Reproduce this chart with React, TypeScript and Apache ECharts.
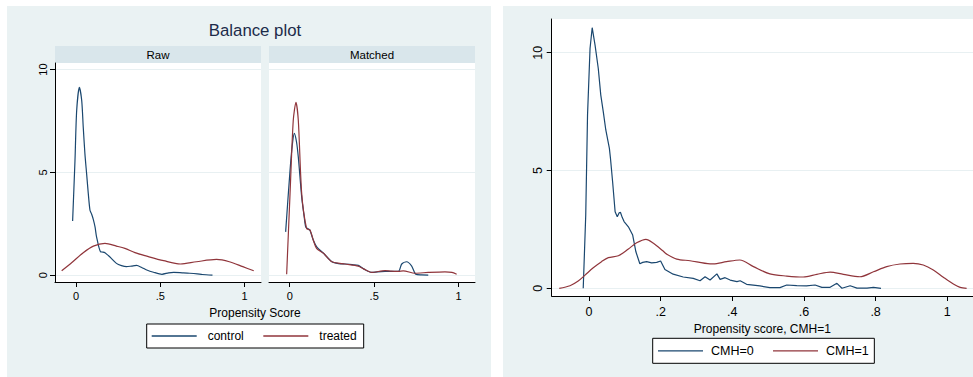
import React, { useEffect, useRef } from "react";
import * as echarts from "echarts";

// ---- data ----
const rawControl: [number, number][] = [
  [-0.02, 2.64], [-0.006, 5.58], [0.004, 8.0], [0.02, 9.13], [0.034, 8.49], [0.043, 7.2],
  [0.053, 5.9], [0.063, 4.94], [0.073, 3.97], [0.083, 3.16], [0.093, 2.97], [0.103, 2.71],
  [0.113, 2.35], [0.122, 1.87], [0.146, 1.14], [0.16, 1.13], [0.172, 1.1], [0.2, 0.9],
  [0.24, 0.58], [0.27, 0.47], [0.3, 0.42], [0.33, 0.45], [0.36, 0.48], [0.39, 0.38],
  [0.42, 0.26], [0.46, 0.15], [0.51, 0.05], [0.55, 0.12], [0.58, 0.14], [0.63, 0.12],
  [0.675, 0.1], [0.72, 0.07], [0.75, 0.04], [0.81, 0.01],
];
const rawTreated: [number, number][] = [
  [-0.085, 0.22], [-0.026, 0.61], [0.043, 1.1], [0.103, 1.42], [0.172, 1.55], [0.24, 1.42],
  [0.29, 1.31], [0.35, 1.1], [0.42, 0.93], [0.52, 0.71], [0.62, 0.55], [0.715, 0.66],
  [0.834, 0.77], [0.91, 0.66], [0.99, 0.42], [1.055, 0.22],
];
const matchedControl: [number, number][] = [
  [-0.024, 2.11], [0.002, 5.1], [0.015, 6.3], [0.027, 6.9], [0.04, 6.5], [0.051, 5.74],
  [0.071, 3.8], [0.085, 2.9], [0.095, 2.35], [0.11, 2.25], [0.12, 2.19], [0.14, 1.7],
  [0.16, 1.38], [0.2, 1.07], [0.25, 0.66], [0.29, 0.57], [0.327, 0.55], [0.37, 0.52],
  [0.406, 0.48], [0.44, 0.3], [0.485, 0.14], [0.52, 0.17], [0.564, 0.19], [0.643, 0.19],
  [0.663, 0.55], [0.692, 0.66], [0.722, 0.45], [0.746, 0.05], [0.78, 0.02], [0.82, 0.01],
];
const matchedTreated: [number, number][] = [
  [-0.018, 0.05], [0.002, 3.97], [0.021, 7.52], [0.037, 8.41], [0.051, 7.52], [0.071, 3.97],
  [0.1, 2.27], [0.12, 2.2], [0.14, 1.7], [0.16, 1.3], [0.2, 1.07], [0.25, 0.66],
  [0.327, 0.55], [0.406, 0.45], [0.44, 0.3], [0.485, 0.14], [0.564, 0.23], [0.6, 0.2],
  [0.643, 0.19], [0.672, 0.22], [0.741, 0.1], [0.82, 0.14], [0.919, 0.17], [0.96, 0.14],
  [0.988, 0.05],
];
const cmh0: [number, number][] = [
  [-0.016, 0], [-0.009, 3.11], [-0.004, 7.35], [0.003, 10.18], [0.009, 11.06], [0.017, 10.32],
  [0.026, 9.33], [0.033, 8.2], [0.04, 7.49], [0.047, 6.72], [0.057, 5.94], [0.06, 5.52],
  [0.066, 4.52], [0.073, 3.25], [0.079, 3.04], [0.084, 3.2], [0.088, 3.22], [0.093, 3.0],
  [0.098, 2.83], [0.11, 2.61], [0.122, 2.26], [0.131, 1.55], [0.142, 1.04], [0.15, 1.1],
  [0.161, 1.13], [0.175, 1.08], [0.189, 1.1], [0.2, 1.16], [0.212, 0.8], [0.235, 0.6],
  [0.263, 0.48], [0.291, 0.42], [0.31, 0.32], [0.324, 0.49], [0.338, 0.35], [0.357, 0.61],
  [0.366, 0.38], [0.38, 0.45], [0.394, 0.35], [0.413, 0.28], [0.422, 0.32], [0.44, 0.17],
  [0.477, 0.1], [0.505, 0.03], [0.533, 0.03], [0.552, 0.14], [0.58, 0.11], [0.607, 0.1],
  [0.631, 0.14], [0.65, 0.04], [0.673, 0.04], [0.692, 0.21], [0.706, 0], [0.729, 0.11],
  [0.748, 0.01], [0.776, 0.01], [0.794, 0.04], [0.815, 0],
];
const cmh1: [number, number][] = [
  [-0.083, 0], [-0.053, 0.11], [-0.03, 0.31], [-0.011, 0.56], [0.012, 0.87], [0.035, 1.13],
  [0.054, 1.3], [0.082, 1.38], [0.11, 1.67], [0.133, 1.93], [0.159, 2.08], [0.18, 1.91],
  [0.207, 1.58], [0.217, 1.45], [0.245, 1.24], [0.282, 1.17], [0.338, 1.04], [0.347, 1.04],
  [0.384, 1.13], [0.421, 1.2], [0.459, 0.92], [0.505, 0.61], [0.552, 0.52], [0.598, 0.48],
  [0.636, 0.59], [0.673, 0.69], [0.71, 0.59], [0.756, 0.49], [0.794, 0.7], [0.831, 0.92],
  [0.868, 1.03], [0.905, 1.06], [0.933, 0.99], [0.961, 0.78], [0.989, 0.47], [1.017, 0.18],
  [1.036, 0.04], [1.054, 0],
];

const leftXTicks = [0, 0.5, 1];
const leftXTickLabels = ["0", ".5", "1"];
const rightXTicks = [0, 0.2, 0.4, 0.6, 0.8, 1];
const rightXTickLabels = ["0", ".2", ".4", ".6", ".8", "1"];
const yTicks = [0, 5, 10];
const yTickLabels = ["0", "5", "10"];

const leftSeriesNames = ["control", "treated"];
const rightSeriesNames = ["CMH=0", "CMH=1"];
const facetNames = ["Raw", "Matched"];
const leftTitle = "Balance plot";
const leftXTitle = "Propensity Score";
const rightXTitle = "Propensity score, CMH=1";

// ---- styles ----
const FONT = "'Liberation Sans', Arial, Helvetica, sans-serif";
const NAVY = "#1a476f";
const MAROON = "#90353b";
const PANEL_BG = "#eaf2f3";
const STRIP_BG = "#d9e6eb";
const GRID_LINE = "#e8f0f2";

const fmt = (ticks: number[], labels: string[]) => (v: number) => {
  const i = ticks.findIndex((t) => Math.abs(t - v) < 1e-9);
  return i >= 0 ? labels[i] : "";
};

export default function App() {
  const ref = useRef<HTMLDivElement>(null);
  useEffect(() => {
    document.body.style.margin = "0";
    if (!ref.current) return;
    const chart = echarts.init(ref.current, undefined, { renderer: "svg" });

    const gridBase = { show: true, backgroundColor: "#ffffff", borderWidth: 0 };
    const xAxisBase = (gridIndex: number, min: number, max: number, ticks: number[], labels: string[], fs: number, margin: number) => ({
      type: "value",
      gridIndex,
      min,
      max,
      axisLine: { show: true, onZero: false, lineStyle: { color: "#000", width: 1 } },
      axisTick: { show: true, customValues: ticks, length: 5, lineStyle: { color: "#000", width: 1 } },
      axisLabel: { customValues: ticks, formatter: fmt(ticks, labels), fontSize: fs, fontFamily: FONT, color: "#000", margin },
      splitLine: { show: false },
    });
    const yAxisBase = (gridIndex: number, min: number, max: number, show: boolean, fs: number, margin: number) => ({
      type: "value",
      gridIndex,
      min,
      max,
      axisLine: { show, onZero: false, lineStyle: { color: "#000", width: 1 } },
      axisTick: { show, customValues: yTicks, length: 5, lineStyle: { color: "#000", width: 1 } },
      axisLabel: {
        show,
        customValues: yTicks,
        formatter: fmt(yTicks, yTickLabels),
        rotate: 90,
        fontSize: fs,
        fontFamily: FONT,
        color: "#000",
        margin,
      },
      splitLine: { show: true, lineStyle: { color: GRID_LINE, width: 1 } },
    });

    const line = (name: string, data: [number, number][], color: string, xi: number, smooth: number) => ({
      type: "line",
      name,
      data,
      xAxisIndex: xi,
      yAxisIndex: xi,
      symbol: "none",
      showSymbol: false,
      smooth,
      lineStyle: { color, width: 1.2 },
      itemStyle: { color },
      emphasis: { disabled: true },
    });

    const strip = (x: number, text: string) => ({
      type: "group",
      children: [
        { type: "rect", shape: { x, y: 46, width: 206, height: 17 }, style: { fill: STRIP_BG } },
        {
          type: "text",
          x: x + 103,
          y: 54.5,
          style: { text, fontSize: 11.5, fontFamily: FONT, fill: "#000", align: "center", verticalAlign: "middle" },
        },
      ],
    });

    const legendBase = {
      orient: "horizontal",
      icon: "rect",
      itemWidth: 45,
      itemHeight: 1.3,
      borderColor: "#000",
      borderWidth: 1,
      backgroundColor: "#fff",
      selectedMode: false,
    };

    chart.setOption({
      animation: false,
      backgroundColor: "#ffffff",
      graphic: [
        { type: "rect", z: -1, shape: { x: 7, y: 6, width: 484, height: 371 }, style: { fill: PANEL_BG } },
        { type: "rect", z: -1, shape: { x: 503, y: 6, width: 470, height: 371 }, style: { fill: PANEL_BG } },
        strip(55, facetNames[0]),
        strip(269, facetNames[1]),
        {
          type: "text",
          x: 255,
          y: 30,
          style: { text: leftTitle, fontSize: 16.8, fontFamily: FONT, fill: "#1c2b4a", align: "center", verticalAlign: "middle" },
        },
        {
          type: "text",
          x: 255,
          y: 313,
          style: { text: leftXTitle, fontSize: 12, fontFamily: FONT, fill: "#000", align: "center", verticalAlign: "middle" },
        },
      ],
      grid: [
        { ...gridBase, left: 55, top: 63, width: 206, height: 219 },
        { ...gridBase, left: 269, top: 63, width: 206, height: 219 },
        { ...gridBase, left: 551.7, top: 19, width: 421.3, height: 277 },
      ],
      xAxis: [
        xAxisBase(0, -0.1246, 1.098, leftXTicks, leftXTickLabels, 11, 8),
        xAxisBase(1, -0.1225, 1.0966, leftXTicks, leftXTickLabels, 11, 8),
        {
          ...xAxisBase(2, -0.104, 1.0718, rightXTicks, rightXTickLabels, 12.5, 9),
          name: rightXTitle,
          nameLocation: "middle",
          nameGap: 22,
          nameTextStyle: { fontSize: 12, fontFamily: FONT, color: "#000" },
        },
      ],
      yAxis: [
        yAxisBase(0, -0.325, 10.316, true, 11, 7),
        yAxisBase(1, -0.325, 10.316, false, 11, 7),
        yAxisBase(2, -0.327, 11.43, true, 12.5, 7.5),
      ],
      legend: [
        {
          ...legendBase,
          data: leftSeriesNames,
          left: 146.7,
          top: 324,
          itemGap: 19.6,
          padding: [5, 7, 5, 5],
          textStyle: { fontSize: 12, lineHeight: 14, fontFamily: FONT, color: "#000", padding: [0, 0, 0, 6] },
        },
        {
          ...legendBase,
          data: rightSeriesNames,
          left: 652.7,
          top: 338.3,
          itemGap: 19.3,
          padding: [5.5, 5.6, 5.5, 5.3],
          textStyle: { fontSize: 12.5, lineHeight: 14, fontFamily: FONT, color: "#000", padding: [0, 0, 0, 3] },
        },
      ],
      series: [
        line(leftSeriesNames[0], rawControl, NAVY, 0, 0.25),
        line(leftSeriesNames[1], rawTreated, MAROON, 0, 0.3),
        line(leftSeriesNames[0], matchedControl, NAVY, 1, 0.25),
        line(leftSeriesNames[1], matchedTreated, MAROON, 1, 0.25),
        line(rightSeriesNames[0], cmh0, NAVY, 2, 0),
        line(rightSeriesNames[1], cmh1, MAROON, 2, 0.3),
      ],
    });
    return () => chart.dispose();
  }, []);
  return <div ref={ref} style={{ width: 973, height: 377 }} />;
}
